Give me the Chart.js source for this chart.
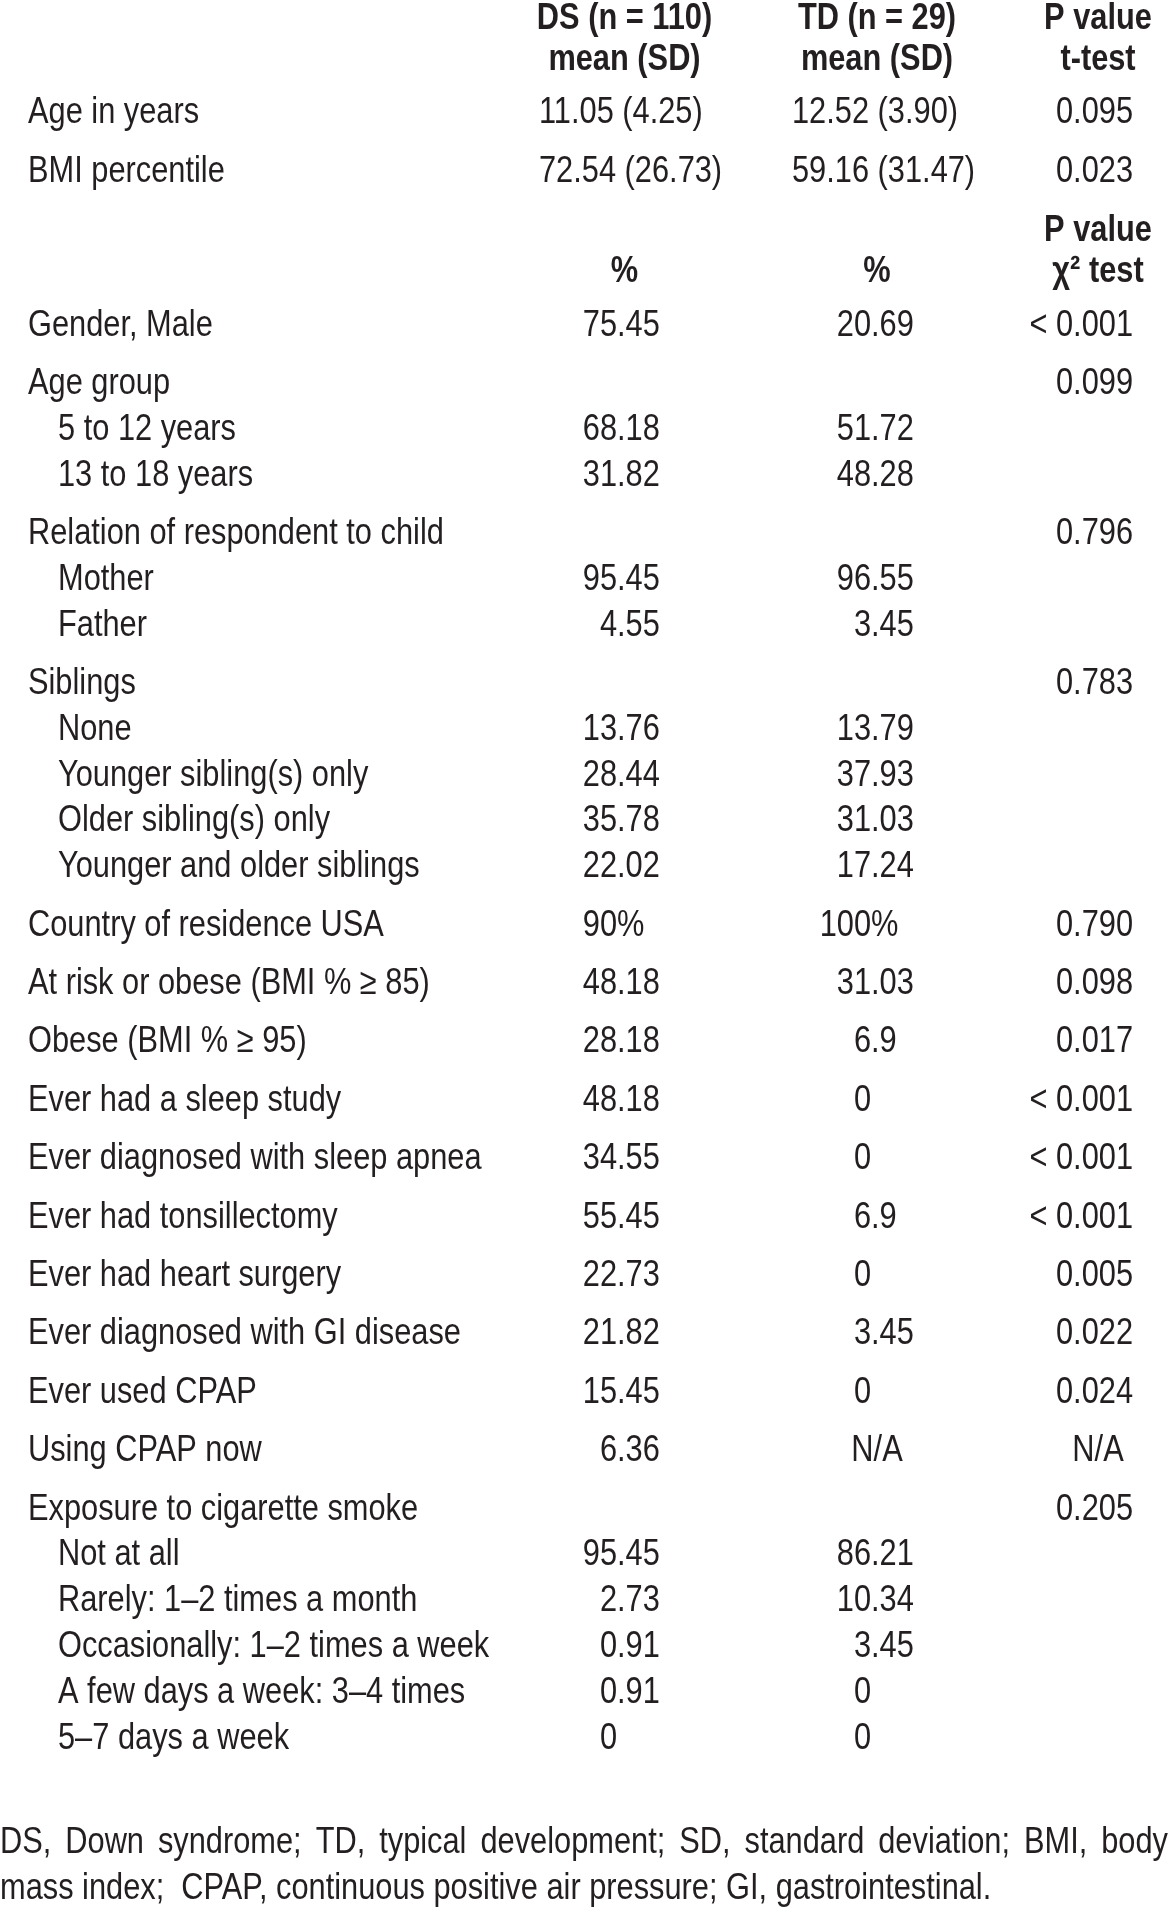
<!DOCTYPE html>
<html>
<head>
<meta charset="utf-8">
<script src="https://cdn.jsdelivr.net/npm/chart.js@4.4.1/dist/chart.umd.min.js"></script>
<style>
  html, body { margin: 0; padding: 0; background: #fff; }
  canvas { display: block; }
</style>
</head>
<body>
<canvas id="tbl" width="1170" height="1907"></canvas>
<script>
// ---- table data ----
const headDS = ['DS (n = 110)', 'mean (SD)'];
const headTD = ['TD (n = 29)', 'mean (SD)'];
const headP = ['P value', 't-test'];

const meanLabels = ['Age in years', 'BMI percentile'];
const meanDS = ['11.05 (4.25)', '72.54 (26.73)'];
const meanTD = ['12.52 (3.90)', '59.16 (31.47)'];
const meanP = ['0.095', '0.023'];

const pctHeadDS = '%';
const pctHeadTD = '%';
const pctHeadP = ['P value', 'χ² test'];

const pctLabels = [
  'Gender, Male', 'Age group', '5 to 12 years', '13 to 18 years',
  'Relation of respondent to child', 'Mother', 'Father',
  'Siblings', 'None', 'Younger sibling(s) only', 'Older sibling(s) only', 'Younger and older siblings',
  'Country of residence USA', 'At risk or obese (BMI % ≥ 85)', 'Obese (BMI % ≥ 95)',
  'Ever had a sleep study', 'Ever diagnosed with sleep apnea', 'Ever had tonsillectomy',
  'Ever had heart surgery', 'Ever diagnosed with GI disease', 'Ever used CPAP', 'Using CPAP now',
  'Exposure to cigarette smoke', 'Not at all', 'Rarely: 1–2 times a month',
  'Occasionally: 1–2 times a week', 'A few days a week: 3–4 times', '5–7 days a week'
];
// 0 = main row, 1 = sub-item of the row above
const pctLevel = [0, 0, 1, 1, 0, 1, 1, 0, 1, 1, 1, 1, 0, 0, 0, 0, 0, 0, 0, 0, 0, 0, 0, 1, 1, 1, 1, 1];
const pctDS = ['75.45', '', '68.18', '31.82', '', '95.45', '4.55', '', '13.76', '28.44', '35.78', '22.02',
  '90%', '48.18', '28.18', '48.18', '34.55', '55.45', '22.73', '21.82', '15.45', '6.36',
  '', '95.45', '2.73', '0.91', '0.91', '0'];
const pctTD = ['20.69', '', '51.72', '48.28', '', '96.55', '3.45', '', '13.79', '37.93', '31.03', '17.24',
  '100%', '31.03', '6.9', '0', '0', '6.9', '0', '3.45', '0', 'N/A',
  '', '86.21', '10.34', '3.45', '0', '0'];
const pctP = ['< 0.001', '0.099', '', '', '0.796', '', '', '0.783', '', '', '', '',
  '0.790', '0.098', '0.017', '< 0.001', '< 0.001', '< 0.001', '0.005', '0.022', '0.024', 'N/A',
  '0.205', '', '', '', '', ''];

const footnote = [
  'DS, Down syndrome; TD, typical development; SD, standard deviation; BMI, body',
  'mass index;  CPAP, continuous positive air pressure; GI, gastrointestinal.'
];

// ---- layout ----
const W = 1170, H = 1907;
const FONT = '"Liberation Sans", Arial, sans-serif';
const SIZE = 37;
const SQUEEZE = 0.832;   // narrow face
const INK = '#231f20';
const col = { lab0: 28, lab1: 58, dsLeft: 539, dsDec: 617, dsMid: 624.5,
              tdLeft: 792, tdDec: 871, tdMid: 877, pRight: 1133, pMid: 1098 };
const STEP_MAIN = 58.4, STEP_SUB = 45.8;

const cells = { label: [], ds: [], td: [], p: [], note: [] };
const put = (k, x, y, text, align, bold) => { if (text) cells[k].push({ x, y, text, align, bold }); };

let y = 19;
headDS.forEach((t, i) => {
  put('ds', col.dsMid, y, t, 'center', true);
  put('td', col.tdMid, y, headTD[i], 'center', true);
  put('p', col.pMid, y, headP[i], 'center', true);
  y += 40.5;
});
y += 13;
meanLabels.forEach((lab, i) => {
  if (i) y += STEP_MAIN;
  put('label', col.lab0, y, lab, 'left');
  put('ds', col.dsLeft, y, meanDS[i], 'left');
  put('td', col.tdLeft, y, meanTD[i], 'left');
  put('p', col.pRight, y, meanP[i], 'right');
});
y += 59;
put('p', col.pMid, y, pctHeadP[0], 'center', true);
y += 41.5;
put('ds', col.dsMid, y, pctHeadDS, 'center', true);
put('td', col.tdMid, y, pctHeadTD, 'center', true);
put('p', col.pMid, y, pctHeadP[1], 'center', true);
y += 53.5;
pctLabels.forEach((lab, i) => {
  if (i) y += pctLevel[i] ? STEP_SUB : STEP_MAIN;
  put('label', pctLevel[i] ? col.lab1 : col.lab0, y, lab, 'left');
  put('ds', col.dsDec, y, pctDS[i], pctDS[i] === 'N/A' ? 'center' : 'dec');
  put('td', pctTD[i] === 'N/A' ? col.tdMid : col.tdDec, y, pctTD[i], pctTD[i] === 'N/A' ? 'center' : 'dec');
  put('p', pctP[i] === 'N/A' ? col.pMid : col.pRight, y, pctP[i], pctP[i] === 'N/A' ? 'center' : 'right');
});
y += 104;
put('note', 0, y, footnote[0], 'justify');
y += 46;
put('note', 0, y, footnote[1], 'left');

// ---- drawing ----
const fontOf = (bold) => (bold ? 'bold ' : '') + SIZE + 'px ' + FONT;

function drawCell(ctx, d, px, py) {
  ctx.save();
  ctx.font = fontOf(d.bold);
  ctx.fillStyle = INK;
  ctx.textBaseline = 'middle';
  if (d.align === 'justify') {
    const words = d.text.split(' ');
    const widths = words.map(w => ctx.measureText(w).width * SQUEEZE);
    const gap = (W - 2 - widths.reduce((a, b) => a + b, 0)) / (words.length - 1);
    let x = px;
    words.forEach((w, i) => {
      ctx.save();
      ctx.translate(x, py);
      ctx.scale(SQUEEZE, 1);
      ctx.textAlign = 'left';
      ctx.fillText(w, 0, 0);
      ctx.restore();
      x += widths[i] + gap;
    });
    ctx.restore();
    return;
  }
  let x = px, align = d.align;
  if (align === 'dec') {
    const intPart = (d.text.match(/^\d+/) || [''])[0];
    x = px - ctx.measureText(intPart).width * SQUEEZE;
    align = 'left';
  }
  ctx.translate(x, py);
  ctx.scale(SQUEEZE, 1);
  ctx.textAlign = align;
  ctx.fillText(d.text, 0, 0);
  ctx.restore();
}

const cellText = {
  id: 'cellText',
  afterDatasetsDraw(chart) {
    const ctx = chart.ctx;
    chart.data.datasets.forEach((ds, i) => {
      chart.getDatasetMeta(i).data.forEach((el, j) => drawCell(ctx, ds.data[j], el.x, el.y));
    });
  }
};

const mk = (key) => ({ label: key, data: cells[key], pointRadius: 0, pointHoverRadius: 0, showLine: false });

new Chart(document.getElementById('tbl'), {
  type: 'scatter',
  data: { datasets: ['label', 'ds', 'td', 'p', 'note'].map(mk) },
  options: {
    responsive: false,
    animation: false,
    devicePixelRatio: 1,
    events: [],
    layout: { padding: 0, autoPadding: false },
    scales: {
      x: { type: 'linear', min: 0, max: W, display: false },
      y: { type: 'linear', min: 0, max: H, reverse: true, display: false }
    },
    plugins: { legend: { display: false }, tooltip: { enabled: false } }
  },
  plugins: [cellText]
});
</script>
</body>
</html>
